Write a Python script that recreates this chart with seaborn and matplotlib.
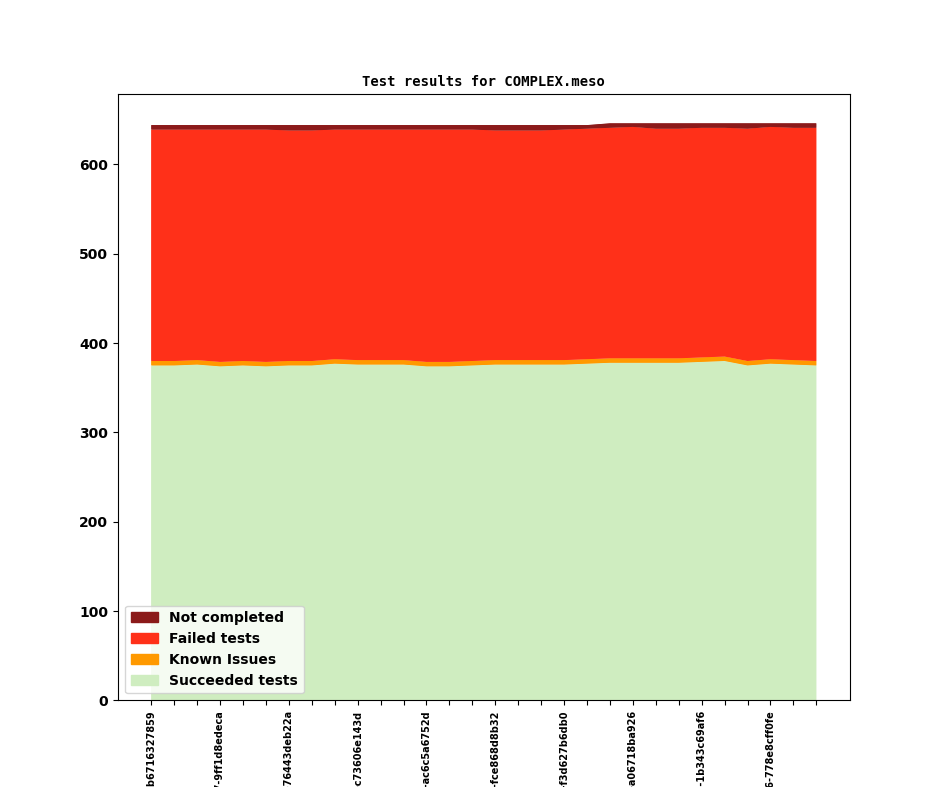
import matplotlib
matplotlib.use("Agg")
import matplotlib.pyplot as plt
from matplotlib.patches import Patch
import pandas as pd
import seaborn as sns
import seaborn.objects as so

# ---- data ----
tick_labels = [
    "3e1c9a0-b6716327859", "4d20e17-9ff1d8edeca", "8a5f2c3-76443deb22a",
    "1b9e4d0-c73606e143d", "5c7a2f8-ac6c5a6752d", "9d3b1e6-fce868d8b32",
    "2e8f4a1-f3d627b6db0", "7a4c9e2-a06718ba926", "0f6d3b5-1b343c69af6",
    "c2a8e96-778e8cff0fe",
]
succeeded = [375, 375, 376, 374, 375, 374, 375, 375, 377, 376,
             376, 376, 374, 374, 375, 376, 376, 376, 376, 377,
             378, 378, 378, 378, 379, 380, 375, 377, 376, 375]
known_issues = [5, 5, 5, 5, 5, 5, 5, 5, 5, 5,
                5, 5, 5, 5, 5, 5, 5, 5, 5, 5,
                5, 5, 5, 5, 5, 5, 5, 5, 5, 5]
failed = [259, 259, 258, 260, 259, 260, 258, 258, 257, 258,
          258, 258, 260, 260, 259, 257, 257, 257, 258, 258,
          258, 259, 257, 257, 257, 256, 260, 260, 260, 261]
not_completed = [5, 5, 5, 5, 5, 5, 6, 6, 5, 5,
                 5, 5, 5, 5, 5, 6, 6, 6, 5, 4,
                 5, 4, 6, 6, 5, 5, 6, 4, 5, 5]

series_names = ["Succeeded tests", "Known Issues", "Failed tests", "Not completed"]
series_values = [succeeded, known_issues, failed, not_completed]
series_colors = ["#cfedc0", "#ff9900", "#ff3019", "#8b1a1a"]
label_step = 3

n = len(succeeded)
rows = []
for name, vals in zip(series_names, series_values):
    for i, v in enumerate(vals):
        rows.append({"run": i, "count": v, "series": name})
df = pd.DataFrame(rows)

fig, ax = plt.subplots(figsize=(9.44, 7.87), dpi=100)

(
    so.Plot(df, x="run", y="count", color="series")
    .add(so.Area(alpha=1, edgewidth=1), so.Stack())
    .scale(color=so.Nominal(dict(zip(series_names, series_colors)), order=series_names))
    .label(x="", y="")
    .theme({**sns.axes_style("white"), "axes.edgecolor": "black",
            "xtick.bottom": True, "ytick.left": True})
    .on(ax)
    .plot()
)

fig.legends.clear()

ax.set_facecolor("white")
for s in ax.spines.values():
    s.set_visible(True)
    s.set_color("black")
    s.set_linewidth(0.8)
ax.grid(False)
ax.set_xlim(-0.05 * (n - 1), (n - 1) * 1.05)
ax.set_ylim(bottom=0)

xt = list(range(n))
xl = ["" for _ in xt]
for k, lab in enumerate(tick_labels):
    xl[k * label_step] = lab
ax.set_xticks(xt)
ax.set_xticklabels(xl, rotation=90, fontsize=7, fontweight="bold")
ax.set_yticks([0, 100, 200, 300, 400, 500, 600])
ax.set_yticklabels(["0", "100", "200", "300", "400", "500", "600"], fontsize=10, fontweight="bold")
ax.tick_params(axis="both", direction="out", length=3.5, width=0.8, color="black", labelcolor="black")

ax.set_title("Test results for COMPLEX.meso", fontfamily="DejaVu Sans Mono",
             fontweight="bold", fontsize=10)

handles = [Patch(color=c, label=nm) for nm, c in zip(series_names, series_colors)][::-1]
ax.legend(handles=handles, loc="lower left", prop={"weight": "bold", "size": 10})

fig.subplots_adjust(left=0.125, right=0.9, top=0.88, bottom=0.11)
fig.savefig("out.png", dpi=100)
